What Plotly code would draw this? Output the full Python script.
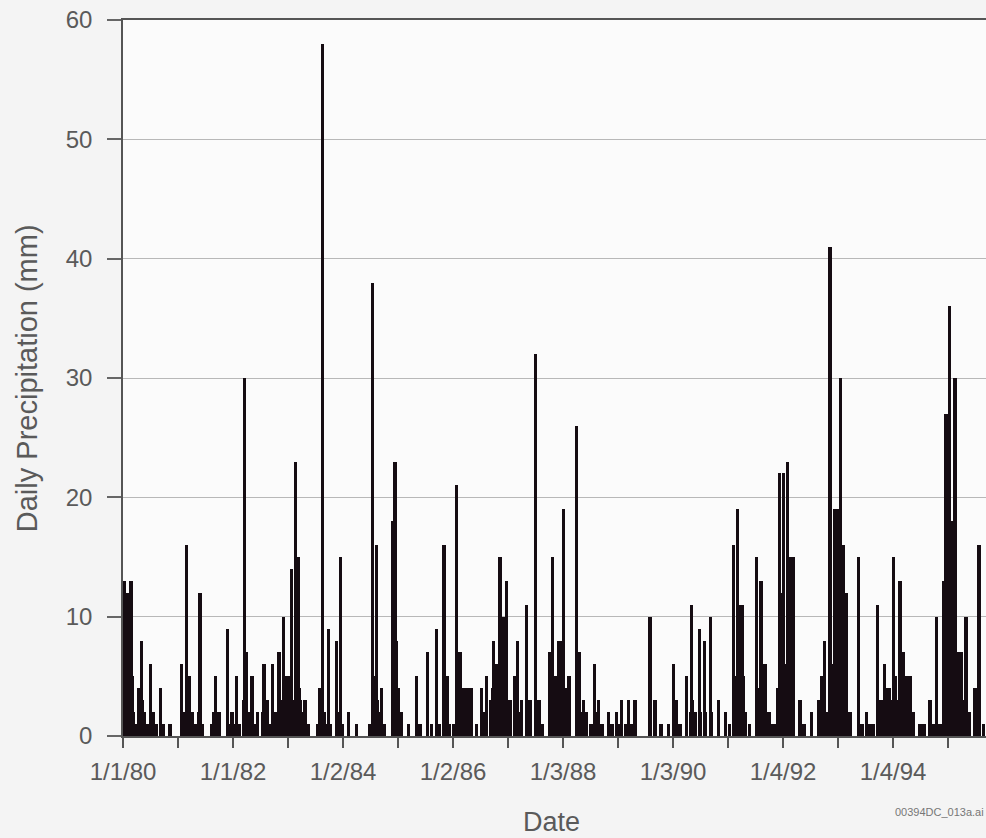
import pandas as pd
import plotly.graph_objects as go

# Days since 1 Jan 1980 on which rain fell, with daily totals (mm)
day_offsets = [
    7, 17, 27, 40, 53, 70, 90, 106, 124, 140, 165, 184, 200, 220, 251, 270, 312,
    390, 405, 423, 439, 459, 480, 512, 530, 589, 600, 616, 638, 693, 705,
    724, 740, 756, 775, 806, 822, 835, 857, 875, 895, 937, 950, 962, 980, 995,
    1010, 1037, 1050, 1065, 1083, 1100, 1121, 1135, 1148, 1165, 1180, 1209, 1230,
    1295, 1309, 1324, 1340, 1364, 1380, 1420, 1447, 1460, 1497, 1553, 1641, 1657,
    1670, 1686, 1700, 1719, 1735, 1790, 1807, 1819, 1835, 1852, 1900, 1952, 1974,
    2022, 2050, 2085, 2106, 2133, 2155, 2170,
    2200, 2217, 2239, 2255, 2266, 2280, 2293, 2317, 2350, 2384, 2400, 2417, 2440,
    2461, 2483, 2505, 2527, 2540, 2550, 2572, 2605, 2623, 2649, 2683, 2705, 2742,
    2764, 2790, 2837, 2855, 2871, 2893, 2909, 2930, 2945, 2964, 3015, 3030, 3059,
    3081, 3110, 3136, 3158, 3183,
    3225, 3250, 3281, 3300, 3314, 3340, 3358, 3380, 3402, 3502, 3535, 3575, 3624,
    3657, 3675, 3701, 3746, 3779, 3801, 3830, 3863, 3905, 3956, 4005, 4030,
    4056, 4067, 4085, 4100, 4115, 4133, 4166, 4211, 4226, 4240, 4266, 4293, 4320,
    4333, 4351, 4361, 4372, 4388, 4399, 4417, 4432, 4452, 4499, 4525, 4576, 4620,
    4643, 4660, 4678, 4698, 4711, 4731, 4753, 4769, 4786, 4809, 4831,
    4886, 4911, 4942, 4964, 4984, 5012, 5037, 5063, 5075, 5090, 5119, 5130, 5163,
    5185, 5208, 5230, 5250, 5296, 5323, 5363, 5383, 5407, 5429, 5451, 5469, 5491,
    5507, 5529, 5551, 5573, 5602, 5628, 5662, 5688, 5717,
    # smaller falls in between
    12, 33, 45, 60, 115, 130, 430, 447, 505, 520,
    800, 812, 845, 930, 1020, 1072, 1090, 1110, 1128, 1155, 1172, 1190,
    1318, 1330, 1352, 1430, 1663, 1678, 1693, 1800, 1812, 1827,
    2225, 2247, 2274, 2302, 2310, 2453, 2470, 2490, 2498, 2512, 2520, 2535, 2560,
    2612, 2630, 2750, 2845, 2863, 2880, 2900, 2920, 2937, 2955, 3022, 3040,
    3143, 3170,
    3770, 3787, 3840, 3870, 3912, 4062, 4076, 4092, 4108, 4122, 4218, 4233, 4248, 4258,
    4355, 4366, 4380, 4393, 4405, 4410, 4425, 4440, 4685, 4704, 4718, 4725, 4740,
    4760, 4777, 4795, 4815,
    5025, 5050, 5070, 5083, 5100, 5125, 5140, 5150, 5170, 5192, 5215,
    5460, 5478, 5485, 5500, 5515, 5522, 5537, 5545, 5560, 5580, 5590,
]
precip_mm = [
    13, 4, 12, 11, 13, 2, 1, 4, 8, 2, 1, 6, 2, 1, 4, 1, 1,
    6, 2, 16, 5, 2, 1, 12, 1, 1, 2, 5, 2, 9, 1,
    2, 1, 5, 1, 30, 7, 2, 5, 1, 2, 6, 2, 3, 1, 6,
    2, 7, 3, 10, 5, 2, 14, 3, 23, 15, 3, 3, 1,
    1, 4, 58, 2, 9, 1, 8, 15, 1, 2, 1, 1, 38,
    3, 16, 2, 4, 1, 18, 23, 8, 2, 2, 1, 5, 1,
    7, 1, 9, 1, 16, 5, 1,
    1, 21, 7, 4, 4, 2, 4, 4, 1, 4, 2, 5, 3,
    8, 6, 15, 10, 4, 13, 3, 5, 8, 3, 11, 3, 32,
    3, 1, 7, 15, 5, 8, 8, 19, 3, 5, 26, 7, 3,
    2, 1, 6, 3, 1,
    2, 1, 2, 1, 3, 1, 3, 1, 3, 10, 3, 1, 1,
    6, 3, 1, 5, 11, 2, 9, 8, 10, 3, 2, 1,
    16, 4, 19, 11, 11, 2, 1, 15, 3, 13, 6, 2, 1,
    1, 4, 22, 12, 22, 5, 23, 15, 15, 3, 1, 2, 3,
    5, 8, 1, 41, 4, 19, 19, 30, 16, 12, 2,
    15, 1, 2, 1, 1, 11, 3, 6, 4, 4, 15, 5, 13,
    7, 5, 5, 2, 1, 1, 3, 1, 10, 1, 13, 27, 36,
    18, 30, 7, 7, 10, 2, 4, 16, 1,
    # smaller falls in between
    2, 3, 1, 5, 2, 3, 3, 2, 2, 1,
    3, 4, 1, 2, 1, 4, 3, 5, 2, 6, 4, 2,
    3, 2, 1, 2, 4, 5, 3, 5, 3, 4,
    3, 2, 3, 2, 3, 4, 2, 3, 5, 4, 6, 3, 2,
    3, 2, 2, 3, 2, 4, 3, 2, 4, 2, 3, 2,
    2, 1,
    2, 3, 2, 2, 2, 3, 5, 4, 3, 5, 2, 4, 3, 2,
    3, 5, 4, 6, 5, 3, 4, 2, 2, 5, 3, 6, 4,
    3, 5, 3, 2,
    2, 1, 3, 2, 3, 4, 3, 2, 5, 4, 3,
    3, 5, 4, 6, 3, 5, 4, 3, 2, 3, 2,
]
tick_labels = ["1/1/80", "1/1/82", "1/2/84", "1/2/86", "1/3/88", "1/3/90", "1/4/92", "1/4/94"]
label_step_days = 731
end_day = 5735

base = pd.Timestamp("1980-01-01")
dates = base + pd.to_timedelta(day_offsets, unit="D")

tickvals, ticktext = [], []
for i in range(2 * len(tick_labels)):
    tickvals.append(base + pd.Timedelta(days=label_step_days / 2 * i))
    ticktext.append(tick_labels[i // 2] if i % 2 == 0 else "")

DAY_MS = 86400000
fig = go.Figure(go.Bar(
    x=dates, y=precip_mm,
    width=21 * DAY_MS,
    marker=dict(color="#150c12", line=dict(width=0)),
))

FONT = "Liberation Sans, Arial, sans-serif"
fig.update_layout(
    width=986, height=838,
    margin=dict(l=123, r=0, t=20, b=102),
    paper_bgcolor="#f4f4f4",
    plot_bgcolor="#fbfbfb",
    showlegend=False,
    bargap=0,
    font=dict(family=FONT, color="#555555"),
    xaxis=dict(
        type="date",
        range=[base, base + pd.Timedelta(days=end_day)],
        tickmode="array", tickvals=tickvals, ticktext=ticktext,
        ticks="outside", ticklen=10, tickwidth=1.5, tickcolor="#555555",
        tickfont=dict(size=24, color="#5a5a5a"),
        ticklabelstandoff=3,
        showgrid=False, showline=True, linecolor="#555555", linewidth=1.5,
        mirror=True, zeroline=False,
    ),
    yaxis=dict(
        range=[0, 60], tickvals=[0, 10, 20, 30, 40, 50, 60],
        ticks="outside", ticklen=14, tickwidth=1.5, tickcolor="#666666",
        tickfont=dict(size=24, color="#5a5a5a"),
        ticklabelstandoff=10,
        showgrid=True, gridcolor="#b8b8b8", gridwidth=1,
        showline=True, linecolor="#555555", linewidth=1.5, zeroline=False,
    ),
    annotations=[
        dict(text="Daily Precipitation (mm)", xref="paper", yref="paper",
             x=-0.111, y=0.5, xanchor="center", yanchor="middle", textangle=-90,
             showarrow=False, font=dict(size=29, color="#5a5a5a", family=FONT)),
        dict(text="Date", xref="paper", yref="paper",
             x=0.496, y=-0.120, xanchor="center", yanchor="middle",
             showarrow=False, font=dict(size=27, color="#5a5a5a", family=FONT)),
        dict(text="00394DC_013a.ai", xref="paper", yref="paper",
             x=1.0, y=-0.106, xanchor="right", yanchor="middle",
             showarrow=False, font=dict(size=11, color="#777777", family=FONT)),
    ],
)

fig.write_html("out.html")
